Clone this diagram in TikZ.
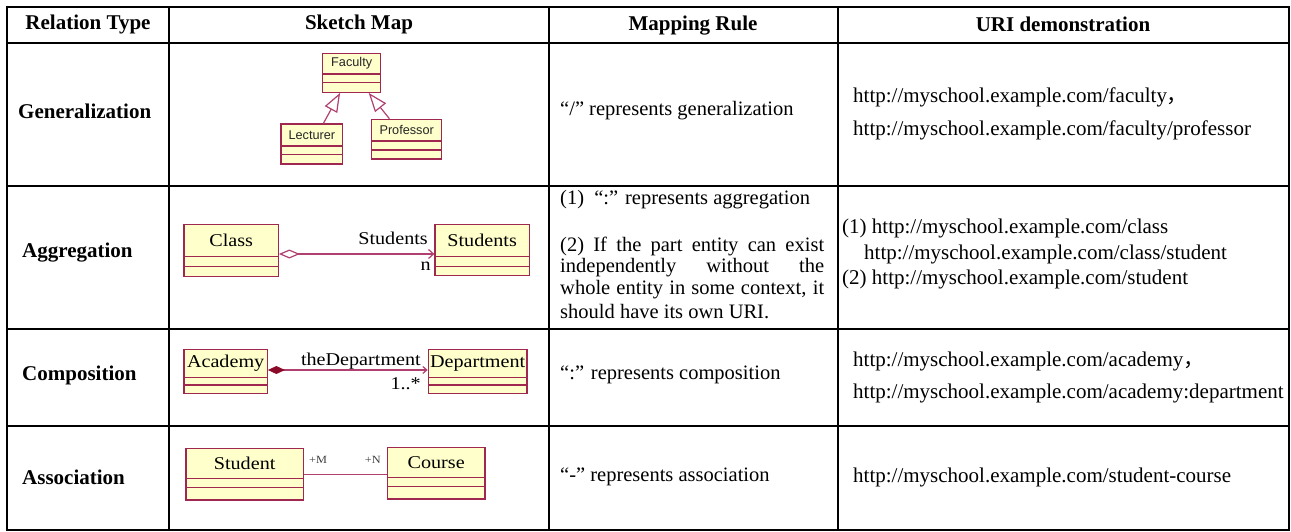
\documentclass[tikz,border=0pt]{standalone}
\usepackage{fontspec}
\setmainfont{Liberation Serif}
\newfontfamily\cjk{Noto Sans CJK SC}
\newfontfamily\umlserif{Liberation Serif}[FakeStretch=1.12]
\newfontfamily\umlsans{Liberation Sans}
\usetikzlibrary{arrows.meta,fit,calc}
\definecolor{umlfill}{RGB}{255,255,204}
\definecolor{umlline}{RGB}{160,40,80}
\definecolor{umlconn}{RGB}{176,64,112}
\definecolor{umldark}{RGB}{139,10,42}
\newcommand{\umlcls}[8]{%
  \node[ucls, fit={(#2,#3) (#4,#5)}] (#1) {};
  \draw[ucomp] (#2,#6) -- (#4,#6);
  \draw[ucomp] (#2,#7) -- (#4,#7);
  \node[utext] (#1-t) at ({(#2+#4)/2},{(#3+#6)/2}) {#8};
}
\begin{document}
\begin{tikzpicture}[x=1pt,y=-1pt,
  rule/.style={line width=2pt},
  hrule/.style={line width=2.6pt},
  hdr/.style={font=\fontsize{21}{24}\selectfont\bfseries, inner sep=0pt},
  lbl/.style={font=\fontsize{21}{24}\selectfont\bfseries, inner sep=0pt, anchor=west},
  cell/.style={font=\fontsize{21}{23}\selectfont, inner sep=0pt, anchor=west},
  mcell/.style={font=\fontsize{20.5}{22}\selectfont, inner sep=0pt, anchor=west},
  ucls/.style={draw=umlline, fill=umlfill, line width=1.2pt, inner sep=0pt},
  ucomp/.style={draw=umlline, line width=1.2pt},
  ucon/.style={draw=umlconn, line width=1.2pt},
  utext/.style={font=\umlserif\fontsize{18}{20}\selectfont, inner sep=0pt},
  ulabel/.style={font=\umlserif\fontsize{18}{20}\selectfont, inner sep=0pt},
  usmall/.style={font=\umlserif\fontsize{11}{12}\selectfont, inner sep=0pt, text=black!75}
]
\useasboundingbox (0,0) rectangle (1291,532);
% table rules
\draw[hrule] (6,7) -- (1290,7);
\draw[hrule] (6,43) -- (1290,43);
\foreach \yy in {186,329,426,530} \draw[rule] (6,\yy) -- (1290,\yy);
\foreach \xx in {7,169,549,838,1289} \draw[rule] (\xx,6) -- (\xx,531);
% header
\node[hdr] (h1) at (88,24) {Relation Type};
\node[hdr] (h2) at (359,24) {Sketch Map};
\node[hdr, anchor=base] (h3) at (693,31) {Mapping Rule};
\node[hdr] (h4) at (1063,24) {URI demonstration};
% row labels
\node[lbl] (r1) at (18,111) {Generalization};
\node[lbl] (r2) at (22,253) {Aggregation};
\node[lbl] (r3) at (22,375) {Composition};
\node[lbl] (r4) at (22,477) {Association};
% mapping rules
\node[mcell] (m1) at (560,111) {“/” represents generalization};
\node[mcell] (m2a) at (560,200) {(1)\ \ “:” represents aggregation};
\node[mcell] (m2b) at (560,246) {\makebox[264pt][s]{(2) If the part entity can exist}};
\node[mcell] (m2c) at (560,268) {\makebox[264pt][s]{independently without the}};
\node[mcell] (m2d) at (560,290) {\makebox[264pt][s]{whole entity in some context, it}};
\node[mcell] (m2e) at (560,312) {should have its own URI.};
\node[mcell] (m3) at (560,375) {“:” represents composition};
\node[mcell] (m4) at (560,477) {“-” represents association};
% URIs
\node[cell] (u1a) at (853,97) {http://myschool.example.com/faculty\cjk{，}};
\node[cell] (u1b) at (853,130) {http://myschool.example.com/faculty/professor};
\node[cell] (u2a) at (842,228) {(1) http://myschool.example.com/class};
\node[cell] (u2b) at (864,254) {http://myschool.example.com/class/student};
\node[cell] (u2c) at (842,279) {(2) http://myschool.example.com/student};
\node[cell] (u3a) at (853,361) {http://myschool.example.com/academy\cjk{，}};
\node[cell] (u3b) at (853,393) {http://myschool.example.com/academy:department};
\node[cell] (u4) at (853,477) {http://myschool.example.com/student-course};
% ---- generalization sketch
\begin{scope}[utext/.style={font=\umlsans\fontsize{12.7}{14}\selectfont, inner sep=0pt, text=black!85}]
\umlcls{fac}{322.7}{53.3}{380.7}{92.3}{74}{82.7}{Faculty}
\umlcls{lect}{281}{124}{342.7}{164}{146}{154.3}{Lecturer}
\umlcls{prof}{371.7}{119.3}{441.7}{159}{141}{150}{Professor}
\end{scope}
\draw[ucon, -{Triangle[open, fill=white, length=19pt, width=14pt]}] ($(lect.north west)+(43,0)$) -- ($(fac.south west)+(18,0)$);
\draw[ucon, -{Triangle[open, fill=white, length=19pt, width=14pt]}] ($(prof.north west)+(18.3,0)$) -- ($(fac.south west)+(46.6,0)$);
% ---- aggregation sketch
\umlcls{cls}{184}{224.3}{278.3}{276.7}{256.7}{266.7}{Class}
\umlcls{stus}{435}{224.3}{529.3}{275.7}{256.7}{266.7}{Students}
\draw[ucon, {Diamond[open, fill=white, length=21pt, width=9pt]}-{Straight Barb[length=5pt, width=9pt]}] ($(cls.east)+(0,3.5)$) -- ($(stus.west)+(0,4)$);
\node[ulabel, anchor=east] (lstudents) at (428,238) {Students};
\node[ulabel, anchor=east] (ln) at (431,266) {n};
% ---- composition sketch
\umlcls{acad}{184}{349.3}{267.3}{393.3}{377.3}{385}{Academy}
\umlcls{dept}{428.3}{349.3}{527}{393.3}{377.3}{385}{Department}
\draw[ucon, {Diamond[fill=umldark, umldark, length=17pt, width=8pt]}-{Straight Barb[length=4pt, width=7pt]}] ($(acad.east)+(0,-1.3)$) -- ($(dept.west)+(0,-1.3)$);
\node[ulabel, anchor=east] (ltheDep) at (421,361) {theDepartment};
\node[ulabel, anchor=east] (lmult) at (421,384) {1..*};
% ---- association sketch
\umlcls{stud}{186}{448.3}{303.3}{500}{478.3}{487.3}{Student}
\umlcls{crs}{387.3}{447.7}{485}{499}{477.3}{486.7}{Course}
\draw[ucon] (stud.east) -- (stud.east -| crs.west);
\node[usmall, anchor=west] (lm) at (309,460) {+M};
\node[usmall, anchor=east] (lnn) at (381,460) {+N};
\end{tikzpicture}
\end{document}
